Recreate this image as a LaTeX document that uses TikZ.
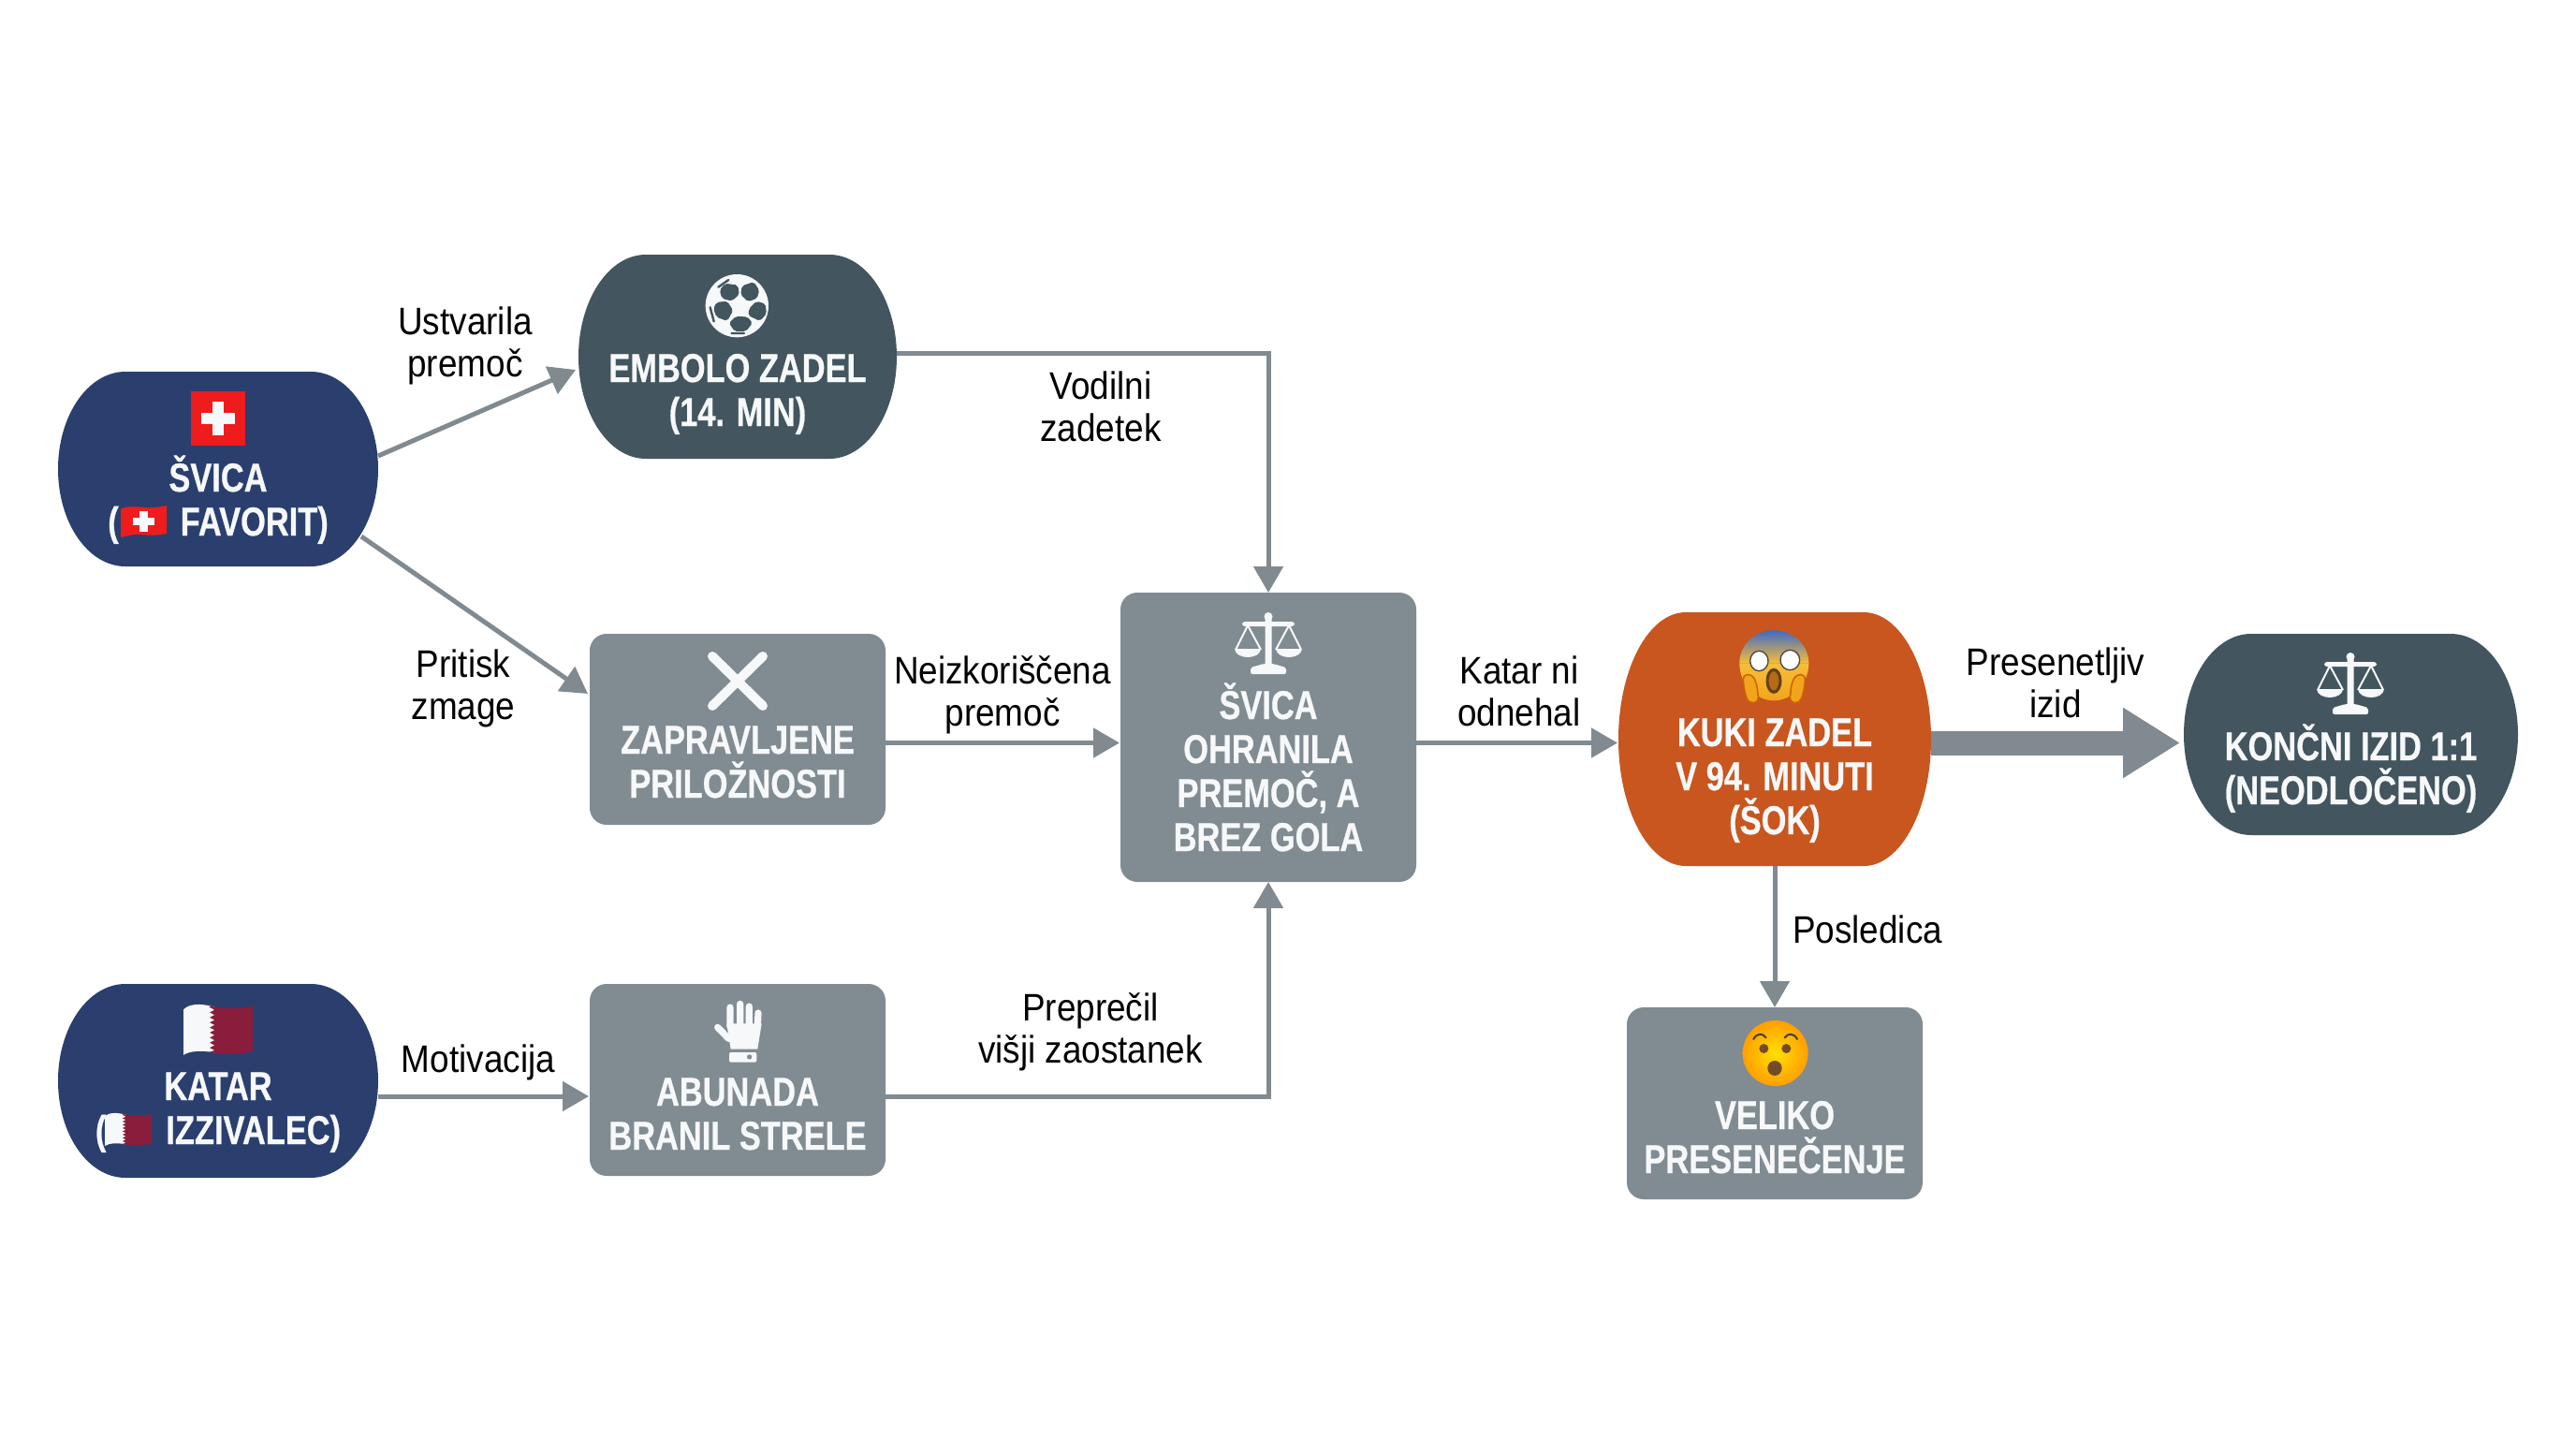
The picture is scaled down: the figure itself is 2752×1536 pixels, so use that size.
\documentclass[tikz,border=0pt]{standalone}
\usepackage{fontspec}
\setmainfont{Liberation Sans}
\newfontfamily\headf[FakeStretch=0.80,BoldFeatures={FakeBold=0.6}]{Liberation Sans}
\newfontfamily\labf[FakeStretch=0.90]{Liberation Sans}
\usetikzlibrary{arrows.meta,calc}
\definecolor{navy}{HTML}{2A3F6E}
\definecolor{slate}{HTML}{43555E}
\definecolor{grayb}{HTML}{818B92}
\definecolor{orangeb}{HTML}{C9561E}
\definecolor{arrowc}{HTML}{808A90}
\definecolor{txtw}{HTML}{F6F8F9}
\definecolor{maroon}{HTML}{8A1C3C}
\definecolor{swissred}{HTML}{EE1C1C}
\definecolor{facetop}{HTML}{3F69C6}
\definecolor{facemid}{HTML}{B4B8C8}
\definecolor{faceyel}{HTML}{F6BE3A}
\definecolor{faceorg}{HTML}{F2A51C}
\definecolor{mouthc}{HTML}{B86A10}
\newcommand\basetext[2]{\raisebox{-#1pt}[0pt][0pt]{\vtop{\lineskiplimit=-100pt\relax\let\\\cr\halign{\hfil##\hfil\cr #2\crcr}}}}
\tikzset{
  nodetext/.style={inner sep=0pt,outer sep=0pt,rectangle,text=txtw,font=\headf\bfseries\fontsize{21.5}{23.5}\selectfont},
  boxnode/.style={nodetext,rounded corners=9pt,fill=grayb},
  lab/.style={inner sep=0pt,outer sep=0pt,text=black,font=\labf\fontsize{20.5}{22.75}\selectfont},
  conn/.style={draw=arrowc,line width=2.5pt,-{Triangle[length=14pt,width=15.5pt]}},
  bigconn/.style={draw=arrowc,line width=13pt,-{Triangle[length=30.5pt,width=35.5pt]}},
  icon/.style={fill=txtw,draw=none},
  hexcell/.style={fill=slate,draw=slate,line width=.5pt,rounded corners=1pt},
}
% blob: name,x0,y0,x1,y1,colour,first baseline,text
\newcommand\blobnode[8]{%
  \pgfmathsetmacro\Cx{(#2+#4)/2}\pgfmathsetmacro\Cy{(#3+#5)/2}%
  \pgfmathsetmacro\Ry{(#5-#3)/2}\pgfmathsetmacro\Rk{.55*\Ry}%
  \pgfmathsetmacro\W{(#4-#2)*.5}\pgfmathsetmacro\Hh{(#5-#3)*.5}%
  \pgfmathsetmacro\D{(#7-\Cy)*.5}%
  \fill[#6] (#2+72,#3) -- (#4-72,#3) .. controls (#4-32,#3) and (#4,\Cy-\Rk) .. (#4,\Cy)
     .. controls (#4,\Cy+\Rk) and (#4-32,#5) .. (#4-72,#5) -- (#2+72,#5)
     .. controls (#2+32,#5) and (#2,\Cy+\Rk) .. (#2,\Cy)
     .. controls (#2,\Cy-\Rk) and (#2+32,#3) .. (#2+72,#3) -- cycle;
  \node[nodetext,minimum width=\W pt,minimum height=\Hh pt] (#1) at (\Cx,\Cy) {\basetext{\D}{#8}};%
}
% box: name,x0,y0,x1,y1,first baseline,text
\newcommand\boxn[7]{%
  \pgfmathsetmacro\Cx{(#2+#4)/2}\pgfmathsetmacro\Cy{(#3+#5)/2}%
  \pgfmathsetmacro\W{(#4-#2)*.5}\pgfmathsetmacro\Hh{(#5-#3)*.5}%
  \pgfmathsetmacro\D{(#6-\Cy)*.5}%
  \node[boxnode,minimum width=\W pt,minimum height=\Hh pt] (#1) at (\Cx,\Cy) {\basetext{\D}{#7}};%
}
\newcommand\lab[4]{\node[lab] (#1) at (#2,#3) {\basetext{0}{#4}};}
% scales: top-centre x, top y
\newcommand\scalesicon[2]{%
  \begin{scope}[shift={(#1,#2)}]
    \fill[icon,rounded corners=1pt] (-3.5,3) -- (3.5,3) -- (3.5,58) -- (-3.5,58) -- cycle;
    \fill[icon] (0,3.5) circle (4.5);
    \fill[icon,rounded corners=1.5pt] (-28,9) rectangle (28,14);
    \fill[icon,rounded corners=1pt] (-19,65) -- (19,65) -- (19,58) -- (5,54) -- (-5,54) -- (-19,58) -- cycle;
    \foreach \s in {-1,1}{
      \draw[txtw,line width=1pt] (\s*22,13) -- (\s*8,39) (\s*22,13) -- (\s*35,39);
      \fill[icon] (\s*22-14,38) -- (\s*22+14,38) .. controls (\s*22+13,50) and (\s*22-13,50) .. (\s*22-14,38) -- cycle;
    }
  \end{scope}}
% wavy Swiss flag: x0,y0,w,h
\newcommand\wavyswiss[4]{%
  \begin{scope}[shift={(#1,#2)},xscale=#3,yscale=#4]
    \fill[swissred] (0,.1) .. controls (.25,-.03) and (.5,.08) .. (.65,.07) .. controls (.8,.06) and (.9,.03) .. (1,0)
       -- (1,.88) .. controls (.85,.93) and (.7,.95) .. (.5,.92) .. controls (.3,.88) and (.15,.95) .. (0,1) -- cycle;
    \fill[txtw] (.41,.18) rectangle (.59,.82);
    \fill[txtw] (.27,.39) rectangle (.73,.61);
  \end{scope}}
% Qatar flag: x0,y0,w,h
\newcommand\qatarflag[4]{%
  \begin{scope}[shift={(#1,#2)},xscale=#3,yscale=#4]
    \fill[txtw] (0,.1) .. controls (.08,-.02) and (.25,-.03) .. (.45,.05) -- (.45,.95) .. controls (.25,.9) and (.08,.92) .. (0,1) -- cycle;
    \fill[maroon] (.38,.03) .. controls (.6,.09) and (.85,.08) .. (1,.03) -- (1,.92) .. controls (.85,.98) and (.6,1) .. (.38,.94)
      \foreach \i in {8,7,...,0}{ -- (.45,{(\i+.75)*.1+.03}) -- (.38,{(\i+.25)*.1+.03}) } -- cycle;
  \end{scope}}
\begin{document}
\begin{tikzpicture}[x=.5pt,y=-.5pt]
\useasboundingbox (0,0) rectangle (2752,1536);
\fill[white] (0,0) rectangle (2752,1536);

% nodes
\blobnode{svica}{62}{397}{404}{605}{navy}{525}{ŠVICA\\(\hspace{33pt}FAVORIT)}
\blobnode{katar}{62}{1051}{404}{1258}{navy}{1175}{KATAR\\(\hspace{32pt}IZZIVALEC)}
\blobnode{embolo}{618}{272}{958}{490}{slate}{408}{EMBOLO ZADEL\\(14. MIN)}
\boxn{zaprav}{630}{677}{946}{881}{805}{ZAPRAVLJENE\\PRILOŽNOSTI}
\boxn{abunada}{630}{1051}{946}{1256}{1181}{ABUNADA\\BRANIL STRELE}
\boxn{ohranila}{1197}{633}{1513}{942}{768}{ŠVICA\\OHRANILA\\PREMOČ, A\\BREZ GOLA}
\blobnode{kuki}{1729}{654}{2063}{925}{orangeb}{797}{KUKI ZADEL\\V 94. MINUTI\\(ŠOK)}
\boxn{veliko}{1738}{1076}{2054}{1281}{1206}{VELIKO\\PRESENEČENJE}
\blobnode{izid}{2333}{677}{2690}{892}{slate}{812}{KONČNI IZID 1:1\\(NEODLOČENO)}

% connectors
\draw[conn] ($(svica.east)+(0,-14)$) -- ($(embolo.west)+(-3,14)$);
\draw[conn] ($(svica.south east)+(-18,-32)$) -- ($(zaprav.west)+(-2,-38)$);
\draw[conn] ($(embolo.east)+(0,-4)$) -| (ohranila.north);
\draw[conn] ($(zaprav.east)+(0,14.5)$) -- ($(ohranila.west)+(-1,6)$);
\draw[conn] ($(abunada.east)+(0,17.5)$) -| (ohranila.south);
\draw[conn] ($(katar.east)+(0,16.5)$) -- ($(abunada.west)+(-1,17.5)$);
\draw[conn] ($(ohranila.east)+(0,6)$) -- ($(kuki.west)+(-1,4)$);
\draw[conn] (kuki.south) -- (veliko.north);
\draw[bigconn] ($(kuki.east)+(0,4)$) -- ($(izid.west)+(-4,9)$);

% labels
\lab{l1}{497}{357}{Ustvarila\\premoč}
\lab{l2}{495}{723}{Pritisk\\zmage}
\lab{l3}{1176}{426}{Vodilni\\zadetek}
\lab{l4}{1071}{730}{Neizkoriščena\\premoč}
\lab{l5}{511}{1145}{Motivacija}
\lab{l6}{1165}{1090}{Preprečil\\višji zaostanek}
\lab{l7}{1623}{730}{Katar ni\\odnehal}
\lab{l8}{2196}{721}{Presenetljiv\\izid}
\lab{l9}{1995}{1007}{Posledica}

% Swiss flag icon
\fill[swissred] (204,418) rectangle (262,476);
\fill[txtw] (227,429) rectangle (239,465);
\fill[txtw] (215,441) rectangle (251,453);
\wavyswiss{129}{540}{49}{34}

% Qatar flags
\qatarflag{196}{1073}{74}{54}
\qatarflag{112}{1189}{50}{35}

% football
\begin{scope}[shift={(740,285)},scale=.3333]
  \fill[txtw] (142,125) circle (101);
  \path[hexcell] (105,55) -- (143,60) -- (148,88) -- (125,108) -- (95,100) -- (88,75) -- cycle;
  \path[hexcell] (160,62) -- (195,50) -- (212,75) -- (205,100) -- (178,110) -- (155,88) -- cycle;
  \path[hexcell] (78,115) -- (110,112) -- (128,140) -- (110,172) -- (78,160) -- (68,135) -- cycle;
  \path[hexcell] (205,112) -- (232,120) -- (235,150) -- (215,172) -- (180,155) -- (182,135) -- cycle;
  \path[hexcell] (140,160) -- (175,162) -- (190,180) -- (170,205) -- (135,205) -- (118,180) -- cycle;
  \draw[slate,line width=1.2pt,line cap=round] (82,65) -- (115,42) (56,130) -- (68,175) (125,213) -- (165,213);
\end{scope}

% X
\draw[txtw,line width=5pt,line cap=round] (761,701) -- (815,754) (815,701) -- (761,754);

% hand
\begin{scope}[shift={(750,1060)},scale=.3333]
  \draw[txtw,line width=3.6pt,line cap=round]
    (90,48) -- (90,110) (122,37) -- (122,110) (151,45) -- (151,110) (180,66) -- (178,110)
    (50,112) -- (85,148);
  \fill[txtw] (79,100) -- (191,100) -- (178,182) -- (92,182) -- cycle;
  \fill[txtw,rounded corners=1pt] (87,192) rectangle (175,224);
  \fill[grayb] (152,207) circle (8);
\end{scope}

% scales
\scalesicon{1355}{655}
\scalesicon{2511}{698}

% scream face
\begin{scope}[shift={(1845,665)},scale=.3333]
  \shade[top color=facetop,middle color=facemid,bottom color=faceyel]
     (150,25) .. controls (215,25) and (262,75) .. (262,130) -- (40,130) .. controls (40,75) and (85,25) .. (150,25) -- cycle;
  \shade[top color=faceyel,bottom color=faceorg]
     (262,130) .. controls (262,200) and (205,250) .. (150,250)
     .. controls (95,250) and (40,200) .. (40,130) -- cycle;
  \fill[white,draw=gray!60!black,line width=.7pt] (103,123) ellipse (29 and 32);
  \fill[white,draw=gray!60!black,line width=.7pt] (202,120) ellipse (31 and 32);
  \fill[mouthc,draw=brown!50!black,line width=1.5pt] (150,187) ellipse (21 and 36);
  \fill[faceorg,draw=orange!80!black,line width=.8pt,rounded corners=2.5pt] (50,168) -- (80,165) -- (95,195) -- (102,255) -- (68,258) -- (55,215) -- cycle;
  \fill[faceorg,draw=orange!80!black,line width=.8pt,rounded corners=2.5pt] (252,168) -- (222,165) -- (207,195) -- (200,255) -- (234,258) -- (247,215) -- cycle;
\end{scope}

% wow face
\begin{scope}[shift={(1700,1040)},scale=.3333]
  \shade[inner color=yellow!75!orange,outer color=orange!75!yellow] (590,255) circle (105);
  \fill[brown!60!black] (553,240) circle (15);
  \fill[brown!60!black] (625,240) circle (15);
  \fill[brown!60!black] (588,303) ellipse (23 and 24);
  \draw[black!75,line width=1pt,line cap=round] (520,210) .. controls (530,190) and (550,190) .. (560,205);
  \draw[black!75,line width=1pt,line cap=round] (620,205) .. controls (630,190) and (650,190) .. (660,210);
\end{scope}
\end{tikzpicture}
\end{document}
